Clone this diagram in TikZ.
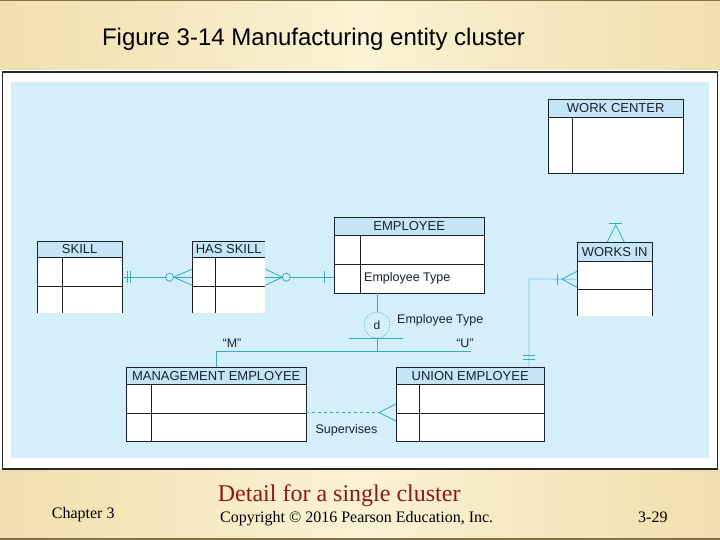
\documentclass[tikz,border=0pt]{standalone}
\usepackage{fontspec}
\setmainfont{Liberation Serif}
\setsansfont{Liberation Sans}
\usetikzlibrary{calc}

\definecolor{bandA}{RGB}{240,223,174}
\definecolor{bandB}{RGB}{251,242,212}
\definecolor{bandedge}{RGB}{130,112,70}
\definecolor{diagblue}{RGB}{212,238,250}
\definecolor{headblue}{RGB}{197,229,247}
\definecolor{entline}{RGB}{24,32,44}
\definecolor{txtcol}{RGB}{24,34,46}
\definecolor{relteal}{RGB}{52,170,196}
\definecolor{rellight}{RGB}{120,196,228}
\definecolor{footred}{RGB}{140,24,20}

\begin{document}
\begin{tikzpicture}[x=1pt,y=-1pt,
  ent/.style={draw=entline,line width=0.9pt},
  box/.style={fill=white,inner sep=0pt,anchor=north west},
  head/.style={fill=headblue,inner sep=0pt,anchor=north west,text=txtcol,
    font=\sffamily\fontsize{13}{15}\selectfont},
  rel/.style={draw=relteal,line width=0.8pt},
  lbl/.style={text=txtcol,inner sep=0pt,font=\sffamily\fontsize{12.5}{14}\selectfont}]
  \useasboundingbox (0,0) rectangle (720,540);

  % slide background
  \shade[left color=bandA,right color=bandA,middle color=bandB] (0,0) rectangle (720,70);
  \shade[left color=bandA,right color=bandA,middle color=bandB] (0,469) rectangle (720,540);
  \draw[bandedge,line width=1.5pt] (0,0.75) -- (720,0.75);
  \draw[bandedge,line width=2pt] (0,539) -- (720,539);
  \draw[fill=white,draw=black!85,line width=1.2pt] (2.5,72) rectangle (717.5,469);
  \fill[diagblue] (11,82) rectangle (709,458);

  \node[anchor=base,inner sep=0pt,font=\sffamily\fontsize{24}{28}\selectfont] (Title)
    at (313.5,46) {Figure 3-14 Manufacturing entity cluster};

  % entities
  \node[box,minimum width=135,minimum height=74] (WorkCenter) at (548,99) {};
  \node[head,minimum width=135,minimum height=18] (WorkCenterHead) at (548,99) {WORK CENTER};
  \draw[ent] (WorkCenter.north west) rectangle (WorkCenter.south east);
  \draw[ent] (WorkCenterHead.south west) -- (WorkCenterHead.south east);
  \draw[ent] ($(WorkCenterHead.south west)+(24,0)$) -- ($(WorkCenter.south west)+(24,0)$);

  \node[box,minimum width=85,minimum height=72] (Skill) at (37,241) {};
  \node[head,minimum width=85,minimum height=16] (SkillHead) at (37,241) {SKILL};
  \draw[ent] (Skill.south west) -- (Skill.north west) -- (Skill.north east) -- (Skill.south east);
  \draw[ent] (SkillHead.south west) -- (SkillHead.south east);
  \draw[ent] (Skill.west |- 0,286) -- (Skill.east |- 0,286);
  \draw[ent] ($(SkillHead.south west)+(25,0)$) -- ($(Skill.south west)+(25,0)$);

  \node[box,minimum width=73,minimum height=72] (HasSkill) at (192,241) {};
  \node[head,minimum width=73,minimum height=16] (HasSkillHead) at (192,241) {HAS SKILL};
  \draw[ent] (HasSkill.south west) -- (HasSkill.north west) -- (HasSkill.north east);
  \draw[ent] (HasSkillHead.south west) -- (HasSkillHead.south east);
  \draw[ent] (HasSkill.west |- 0,286) -- (HasSkill.east |- 0,286);
  \draw[ent] ($(HasSkillHead.south west)+(23,0)$) -- ($(HasSkill.south west)+(23,0)$);

  \node[box,minimum width=150,minimum height=76] (Employee) at (334,217) {};
  \node[head,minimum width=150,minimum height=18] (EmployeeHead) at (334,217) {EMPLOYEE};
  \draw[ent] (Employee.north west) rectangle (Employee.south east);
  \draw[ent] (EmployeeHead.south west) -- (EmployeeHead.south east);
  \draw[ent] (Employee.west |- 0,264) -- (Employee.east |- 0,264);
  \draw[ent] ($(EmployeeHead.south west)+(26,0)$) -- ($(Employee.south west)+(26,0)$);
  \node[lbl,anchor=west] (EmpType) at (364,278.5) {Employee Type};

  \node[box,minimum width=75,minimum height=74] (WorksIn) at (577,242) {};
  \node[head,minimum width=75,minimum height=19] (WorksInHead) at (577,242) {WORKS IN};
  \draw[ent] (WorksIn.south west) -- (WorksIn.north west) -- (WorksIn.north east) -- (WorksIn.south east);
  \draw[ent] (WorksInHead.south west) -- (WorksInHead.south east);
  \draw[ent] (WorksIn.west |- 0,289) -- (WorksIn.east |- 0,289);

  \node[box,minimum width=180,minimum height=74] (Mgmt) at (126,367) {};
  \node[head,minimum width=180,minimum height=17] (MgmtHead) at (126,367) {MANAGEMENT EMPLOYEE};
  \draw[ent] (Mgmt.north west) rectangle (Mgmt.south east);
  \draw[ent] (MgmtHead.south west) -- (MgmtHead.south east);
  \draw[ent] (Mgmt.west |- 0,413) -- (Mgmt.east |- 0,413);
  \draw[ent] ($(MgmtHead.south west)+(25,0)$) -- ($(Mgmt.south west)+(25,0)$);

  \node[box,minimum width=148,minimum height=74] (Union) at (396,367) {};
  \node[head,minimum width=148,minimum height=17] (UnionHead) at (396,367) {UNION EMPLOYEE};
  \draw[ent] (Union.north west) rectangle (Union.south east);
  \draw[ent] (UnionHead.south west) -- (UnionHead.south east);
  \draw[ent] (Union.west |- 0,413) -- (Union.east |- 0,413);
  \draw[ent] ($(UnionHead.south west)+(23,0)$) -- ($(Union.south west)+(23,0)$);

  % SKILL -- HAS SKILL
  \draw[rel] (Skill.east) -- (HasSkill.west);
  \draw[rel] ($(Skill.east)+(4.7,-6)$) -- ++(0,12);
  \draw[rel] ($(Skill.east)+(8,-6)$) -- ++(0,12);
  \draw[rel] ($(HasSkill.west)+(0,-8)$) -- ($(HasSkill.west)+(-18.5,0)$) -- ($(HasSkill.west)+(0,8)$);
  \draw[rel,fill=diagblue] ($(HasSkill.west)+(-22.5,0)$) circle (4);

  % HAS SKILL -- EMPLOYEE
  \coordinate (EmpIn) at (Employee.west |- HasSkill.east);
  \draw[rel] (HasSkill.east) -- (EmpIn);
  \draw[rel] ($(HasSkill.east)+(0,-8)$) -- ($(HasSkill.east)+(17,0)$) -- ($(HasSkill.east)+(0,8)$);
  \draw[rel,fill=diagblue] ($(HasSkill.east)+(21,0)$) circle (4);
  \draw[rel] ($(EmpIn)+(-10,-6)$) -- ++(0,12);

  % subtypes
  \node[circle,draw=relteal,densely dotted,line width=0.6pt,minimum size=26,inner sep=0pt,
    text=txtcol,font=\sffamily\fontsize{12}{14}\selectfont] (Disj) at (377,325) {d};
  \coordinate (Split) at (377,351);
  \draw[rel] (Disj.north |- Employee.south) -- (Disj.north);
  \draw[rel] ($(Disj.south)+(-28,0)$) -- ($(Disj.south)+(26,0)$);
  \draw[rel] (Disj.south) -- (Split) -- (471,351);
  \draw[rel] (Split) -| (Mgmt.north);
  \node[lbl,anchor=west] (DisjLabel) at (397,320) {Employee Type};
  \node[lbl] (MLabel) at (232,343) {“M”};
  \node[lbl] (ULabel) at (465,343) {“U”};

  % WORKS IN -- UNION EMPLOYEE
  \coordinate (Bend) at (529,279);
  \draw[rel,draw=rellight] (WorksIn.west) -- (Bend) -- (Bend |- Union.north);
  \draw[rel] ($(WorksIn.west)+(0,-8)$) -- ($(WorksIn.west)+(-15,0)$) -- ($(WorksIn.west)+(0,8)$);
  \draw[rel] ($(WorksIn.west)+(-20,-5.5)$) -- ++(0,11);
  \draw[rel] ($(Bend |- Union.north)+(-6,-12)$) -- ++(12,0);
  \draw[rel] ($(Bend |- Union.north)+(-6,-7.5)$) -- ++(12,0);

  % WORKS IN stub above
  \draw[rel] ($(WorksIn.north)+(-7.5,0)$) -- ($(WorksIn.north)+(1,-17)$) -- ($(WorksIn.north)+(9.5,0)$);
  \draw[rel] ($(WorksIn.north)+(-5.5,-19)$) -- ++(13,0);

  % Supervises
  \coordinate (SupFrom) at (Mgmt.east |- 0,412.5);
  \coordinate (SupFoot) at (379,412.5);
  \draw[rel,dashed] (SupFrom) -- (SupFoot);
  \draw[rel] ($(Union.west |- SupFoot)+(0,-8.5)$) -- (SupFoot) -- ($(Union.west |- SupFoot)+(0,8.5)$);
  \node[lbl] (SupLabel) at (346.5,430) {Supervises};

  % footer
  \node[anchor=base west,inner sep=0pt,text=footred,font=\fontsize{24}{28}\selectfont] (Detail)
    at (217.7,501.3) {Detail for a single cluster};
  \node[anchor=base west,inner sep=0pt,font=\fontsize{16}{18}\selectfont] (Chapter)
    at (51.7,518.5) {Chapter 3};
  \node[anchor=base west,inner sep=0pt,font=\fontsize{16}{18}\selectfont] (Copyright)
    at (220,522) {Copyright © 2016 Pearson Education, Inc.};
  \node[anchor=base west,inner sep=0pt,font=\fontsize{16}{18}\selectfont] (PageNo)
    at (638,522) {3-29};
\end{tikzpicture}
\end{document}
